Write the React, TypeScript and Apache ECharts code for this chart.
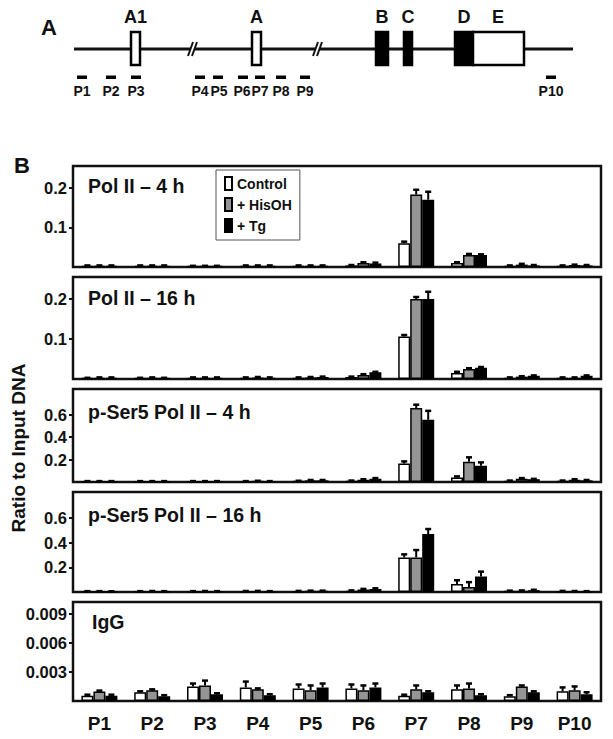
import React, { useEffect, useRef } from 'react';
import * as echarts from 'echarts';

const categories = ['P1', 'P2', 'P3', 'P4', 'P5', 'P6', 'P7', 'P8', 'P9', 'P10'];
const seriesNames = ['Control', '+ HisOH', '+ Tg'];
const panelTitles = ['Pol II – 4 h', 'Pol II – 16 h', 'p-Ser5 Pol II – 4 h', 'p-Ser5 Pol II – 16 h', 'IgG'];

// Panel 1: Pol II – 4 h
const polII4hControl = [0.003, 0.003, 0.002, 0.003, 0.003, 0.004, 0.06, 0.01, 0.003, 0.003];
const polII4hHisOH = [0.003, 0.003, 0.002, 0.003, 0.003, 0.01, 0.183, 0.03, 0.006, 0.005];
const polII4hTg = [0.003, 0.003, 0.002, 0.003, 0.003, 0.009, 0.17, 0.03, 0.004, 0.004];
const polII4hControlErr = [0.001, 0.001, 0.001, 0.001, 0.001, 0.001, 0.004, 0.002, 0.001, 0.001];
const polII4hHisOHErr = [0.001, 0.001, 0.001, 0.001, 0.001, 0.002, 0.012, 0.003, 0.002, 0.001];
const polII4hTgErr = [0.001, 0.001, 0.001, 0.001, 0.001, 0.002, 0.02, 0.002, 0.001, 0.001];

// Panel 2: Pol II – 16 h
const polII16hControl = [0.002, 0.002, 0.003, 0.003, 0.003, 0.005, 0.106, 0.015, 0.003, 0.003];
const polII16hHisOH = [0.003, 0.003, 0.003, 0.004, 0.004, 0.01, 0.2, 0.025, 0.006, 0.003];
const polII16hTg = [0.003, 0.002, 0.003, 0.003, 0.005, 0.017, 0.2, 0.028, 0.008, 0.008];
const polII16hControlErr = [0.001, 0.001, 0.001, 0.001, 0.001, 0.001, 0.004, 0.003, 0.001, 0.001];
const polII16hHisOHErr = [0.001, 0.001, 0.001, 0.001, 0.001, 0.002, 0.005, 0.002, 0.001, 0.001];
const polII16hTgErr = [0.001, 0.001, 0.001, 0.001, 0.001, 0.001, 0.018, 0.002, 0.001, 0.001];

// Panel 3: p-Ser5 Pol II – 4 h
const pSer4hControl = [0.005, 0.005, 0.005, 0.005, 0.008, 0.01, 0.164, 0.04, 0.01, 0.01];
const pSer4hHisOH = [0.005, 0.005, 0.005, 0.008, 0.015, 0.02, 0.66, 0.18, 0.03, 0.02];
const pSer4hTg = [0.005, 0.005, 0.005, 0.005, 0.015, 0.03, 0.555, 0.145, 0.025, 0.015];
const pSer4hControlErr = [0.003, 0.003, 0.003, 0.003, 0.003, 0.003, 0.02, 0.01, 0.003, 0.003];
const pSer4hHisOHErr = [0.003, 0.003, 0.003, 0.003, 0.003, 0.005, 0.03, 0.04, 0.005, 0.005];
const pSer4hTgErr = [0.003, 0.003, 0.003, 0.003, 0.003, 0.005, 0.08, 0.03, 0.003, 0.003];

// Panel 4: p-Ser5 Pol II – 16 h
const pSer16hControl = [0.004, 0.004, 0.004, 0.005, 0.006, 0.01, 0.28, 0.065, 0.008, 0.006];
const pSer16hHisOH = [0.004, 0.005, 0.005, 0.006, 0.008, 0.02, 0.28, 0.04, 0.01, 0.005];
const pSer16hTg = [0.003, 0.004, 0.004, 0.004, 0.008, 0.025, 0.47, 0.125, 0.015, 0.004];
const pSer16hControlErr = [0.003, 0.003, 0.003, 0.003, 0.003, 0.003, 0.025, 0.03, 0.003, 0.003];
const pSer16hHisOHErr = [0.003, 0.003, 0.003, 0.003, 0.003, 0.005, 0.06, 0.04, 0.003, 0.003];
const pSer16hTgErr = [0.003, 0.003, 0.003, 0.003, 0.003, 0.005, 0.04, 0.04, 0.003, 0.003];

// Panel 5: IgG
const iggControl = [0.00055, 0.0009, 0.0015, 0.0014, 0.0013, 0.0013, 0.00055, 0.0012, 0.0005, 0.001];
const iggHisOH = [0.00097, 0.0011, 0.0016, 0.0012, 0.0011, 0.0011, 0.0012, 0.0013, 0.0015, 0.0011];
const iggTg = [0.00055, 0.0005, 0.0007, 0.0006, 0.0014, 0.0014, 0.0009, 0.0006, 0.0009, 0.0007];
const iggControlErr = [0.0001, 0.0001, 0.0003, 0.0006, 0.0004, 0.0004, 0.0001, 0.0004, 0.0001, 0.0004];
const iggHisOHErr = [0.0001, 0.0001, 0.0005, 0.0001, 0.0005, 0.0005, 0.0004, 0.0005, 0.0001, 0.0004];
const iggTgErr = [0.0001, 0.0001, 0.0001, 0.0001, 0.0004, 0.0004, 0.0001, 0.0001, 0.0001, 0.0002];

// Y-axis extents and tick labels per panel
const panelMax = [0.255, 0.255, 0.83, 0.81, 0.0102];
const panelTicks = [
  [0.1, 0.2],
  [0.1, 0.2],
  [0.2, 0.4, 0.6],
  [0.2, 0.4, 0.6],
  [0.003, 0.006, 0.009],
];

// Gene diagram labels
const exonLabels = ['A1', 'A', 'B', 'C', 'D', 'E'];

const panelValues = [
  [polII4hControl, polII4hHisOH, polII4hTg],
  [polII16hControl, polII16hHisOH, polII16hTg],
  [pSer4hControl, pSer4hHisOH, pSer4hTg],
  [pSer16hControl, pSer16hHisOH, pSer16hTg],
  [iggControl, iggHisOH, iggTg],
];
const panelErrors = [
  [polII4hControlErr, polII4hHisOHErr, polII4hTgErr],
  [polII16hControlErr, polII16hHisOHErr, polII16hTgErr],
  [pSer4hControlErr, pSer4hHisOHErr, pSer4hTgErr],
  [pSer16hControlErr, pSer16hHisOHErr, pSer16hTgErr],
  [iggControlErr, iggHisOHErr, iggTgErr],
];

// ---------- layout (not data) ----------
const FONT = '"Liberation Sans", Arial, Helvetica, sans-serif';
const GRID_LEFT = 73;
const GRID_WIDTH = 528;
const gridBoxes = [
  { top: 166, bottom: 267 },
  { top: 277, bottom: 379 },
  { top: 389, bottom: 482 },
  { top: 492, bottom: 592 },
  { top: 602, bottom: 701 },
];
const titleY = [186, 298, 412, 515, 622];
const BAR_W = 12;
const fills = ['#ffffff', '#959595', '#000000'];
const offsets = [-BAR_W, 0, BAR_W];

// Gene diagram geometry
const exonBoxes = [
  { x: 131, w: 9, filled: false, lx: 135.5 },
  { x: 252, w: 9, filled: false, lx: 256.5 },
  { x: 376, w: 12, filled: true, lx: 382 },
  { x: 404, w: 8, filled: true, lx: 408 },
  { x: 455, w: 18, filled: true, lx: 464 },
  { x: 473, w: 51, filled: false, lx: 498 },
];
const primerDashX = [77, 106, 131, 195, 213, 238, 255, 276, 300, 546];
const primerLabelX = [82, 111, 136, 200, 219, 242, 260, 281, 305, 551];
const breakX = [192, 317];

function fmt(v: number) {
  return String(Number(v.toPrecision(3)));
}

function buildOption() {
  const grids: any[] = [];
  const xAxes: any[] = [];
  const yAxes: any[] = [];
  const series: any[] = [];

  gridBoxes.forEach((b, g) => {
    grids.push({
      left: GRID_LEFT,
      width: GRID_WIDTH,
      top: b.top,
      height: b.bottom - b.top,
      show: true,
      borderColor: '#111',
      borderWidth: 2.5,
      backgroundColor: 'transparent',
    });
    xAxes.push({
      type: 'category',
      gridIndex: g,
      data: categories,
      boundaryGap: true,
      axisLine: { show: false },
      axisTick: { show: false },
      splitLine: { show: false },
      axisLabel: {
        show: g === gridBoxes.length - 1,
        fontSize: 19,
        fontWeight: 'bold',
        fontFamily: FONT,
        color: '#111',
        margin: 13,
      },
    });
    yAxes.push({
      type: 'value',
      gridIndex: g,
      min: 0,
      max: panelMax[g],
      axisLine: { show: false },
      splitLine: { show: false },
      axisTick: {
        show: true,
        length: 4,
        customValues: panelTicks[g],
        lineStyle: { color: '#111', width: 2 },
      },
      axisLabel: {
        customValues: panelTicks[g],
        formatter: (v: number) => fmt(v),
        fontSize: 16.5,
        fontWeight: 'bold',
        fontFamily: FONT,
        color: '#111',
        margin: 6,
      },
    });

    panelValues[g].forEach((vals, s) => {
      series.push({
        type: 'bar',
        name: seriesNames[s],
        xAxisIndex: g,
        yAxisIndex: g,
        data: vals,
        barWidth: BAR_W,
        barGap: '0%',
        itemStyle: { color: fills[s], borderColor: '#000', borderWidth: 1.5 },
        z: 2,
      });
    });
    panelValues[g].forEach((vals, s) => {
      const errs = panelErrors[g][s];
      const off = offsets[s];
      series.push({
        type: 'custom',
        xAxisIndex: g,
        yAxisIndex: g,
        silent: true,
        z: 5,
        data: vals.map((v, i) => [i, v, errs[i]]),
        encode: { x: 0, y: 1 },
        renderItem: (params: any, api: any) => {
          const i = api.value(0);
          const v = api.value(1);
          const e = api.value(2);
          const p0 = api.coord([i, v]);
          const p1 = api.coord([i, v + e]);
          const x = p0[0] + off;
          return {
            type: 'group',
            children: [
              { type: 'line', shape: { x1: x, y1: p0[1], x2: x, y2: p1[1] }, style: { stroke: '#000', lineWidth: 2 } },
              { type: 'line', shape: { x1: x - 3, y1: p1[1], x2: x + 3, y2: p1[1] }, style: { stroke: '#000', lineWidth: 2.5 } },
            ],
          };
        },
      });
    });
  });

  const graphic: any[] = [];
  const txt = (text: string, x: number, y: number, size: number, align = 'center', extra: any = {}) => ({
    type: 'text',
    x,
    y,
    silent: true,
    ...extra,
    style: {
      text,
      fontSize: size,
      fontWeight: 'bold',
      fontFamily: FONT,
      fill: '#111',
      textAlign: align,
      textVerticalAlign: 'middle',
    },
  });

  // Panel letters
  graphic.push(txt('A', 49, 27, 22));
  graphic.push(txt('B', 22, 165, 22));

  // Gene diagram
  graphic.push({ type: 'line', shape: { x1: 74, y1: 49, x2: 573, y2: 49 }, style: { stroke: '#111', lineWidth: 3 } });
  breakX.forEach((bx) => {
    graphic.push({ type: 'polygon', shape: { points: [[bx - 4, 56], [bx + 1, 42], [bx + 5, 42], [bx, 56]] }, style: { fill: '#fff' } });
    graphic.push({ type: 'line', shape: { x1: bx - 4, y1: 56, x2: bx + 1, y2: 42 }, style: { stroke: '#111', lineWidth: 2 } });
    graphic.push({ type: 'line', shape: { x1: bx, y1: 56, x2: bx + 5, y2: 42 }, style: { stroke: '#111', lineWidth: 2 } });
  });
  exonBoxes.forEach((e, k) => {
    graphic.push({
      type: 'rect',
      shape: { x: e.x, y: 32, width: e.w, height: 33 },
      style: { fill: e.filled ? '#000' : '#fff', stroke: '#000', lineWidth: 2.5 },
    });
    graphic.push(txt(exonLabels[k], e.lx, 17, 18));
  });
  categories.forEach((c, k) => {
    graphic.push({ type: 'rect', shape: { x: primerDashX[k], y: 75.5, width: 10, height: 3.5 }, style: { fill: '#000' } });
    graphic.push(txt(c, primerLabelX[k], 91, 14));
  });

  // Panel titles
  panelTitles.forEach((t, g) => {
    graphic.push(txt(t, g === 4 ? 92 : 88, titleY[g], 19.5, 'left'));
  });

  // Y axis title
  graphic.push(txt('Ratio to Input DNA', 18, 448, 19, 'center', { rotation: Math.PI / 2 }));

  return {
    animation: false,
    backgroundColor: '#fff',
    grid: grids,
    xAxis: xAxes,
    yAxis: yAxes,
    series,
    graphic,
    legend: {
      data: seriesNames,
      left: 216,
      top: 170,
      orient: 'vertical',
      borderColor: '#555',
      borderWidth: 1,
      padding: [6, 8, 7, 8],
      itemWidth: 7,
      itemHeight: 13,
      itemGap: 6,
      icon: 'rect',
      selectedMode: false,
      textStyle: { fontSize: 14, fontWeight: 'bold', color: '#111', fontFamily: FONT },
    },
  };
}

export default function App() {
  const ref = useRef<HTMLDivElement>(null);
  useEffect(() => {
    if (!ref.current) return;
    const chart = echarts.init(ref.current, undefined, { renderer: 'svg' });
    chart.setOption(buildOption() as any);
    return () => chart.dispose();
  }, []);
  return <div ref={ref} style={{ position: 'absolute', left: 0, top: 0, width: 613, height: 739 }} />;
}
